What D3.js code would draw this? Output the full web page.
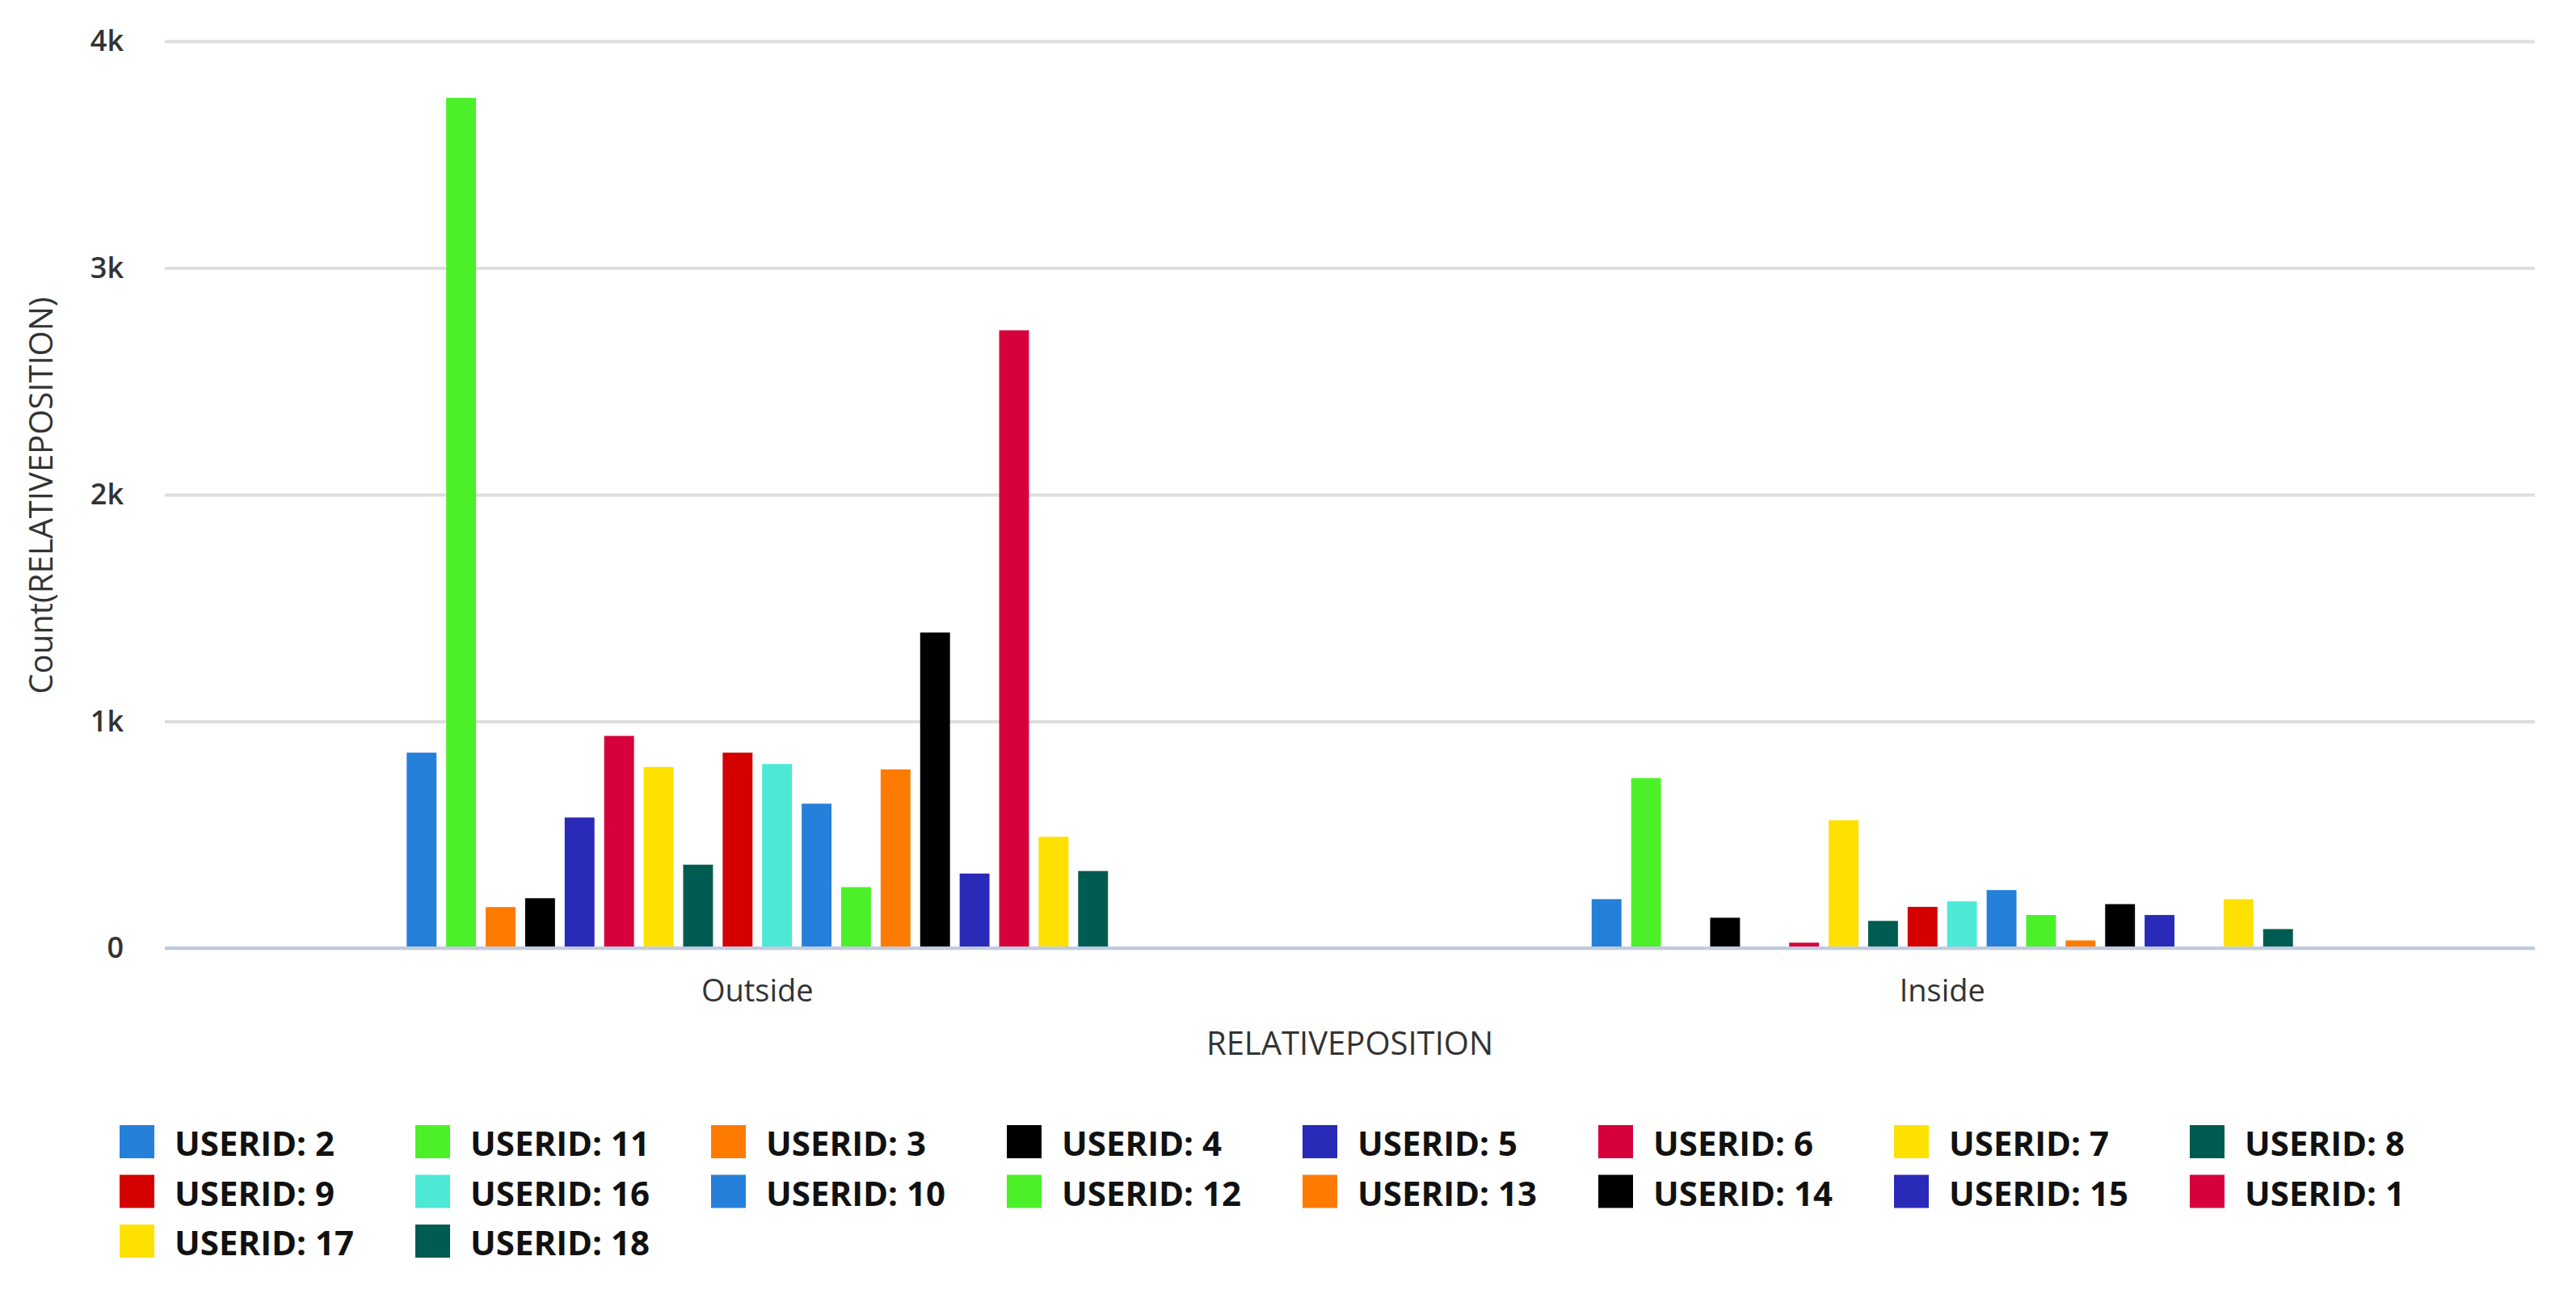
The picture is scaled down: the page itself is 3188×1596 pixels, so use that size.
<!DOCTYPE html>
<html>
<head>
<meta charset="utf-8">
<script src="https://cdn.jsdelivr.net/npm/d3@7"></script>
<style>
  html, body { margin: 0; padding: 0; background: #fff; }
  text { font-family: "Open Sans", "DejaVu Sans", sans-serif; }
</style>
</head>
<body>
<div id="chart"></div>
<script>
const categories = ["Outside", "Inside"];
const userIds = ["2", "11", "3", "4", "5", "6", "7", "8", "9", "16", "10", "12", "13", "14", "15", "1", "17", "18"];
const outsideCounts = [862, 3750, 181, 220, 576, 936, 799, 368, 862, 812, 637, 269, 788, 1392, 329, 2725, 491, 340];
const insideCounts = [216, 750, 0, 134, 0, 24, 564, 120, 182, 206, 256, 146, 34, 194, 146, 0, 216, 84];
const userColors = ["#2580d9", "#4cf029", "#ff7b00", "#000000", "#2a2ab8", "#d6003a", "#ffe100", "#005c50", "#d40000",
    "#4de8d6", "#2580d9", "#4cf029", "#ff7b00", "#000000", "#2a2ab8", "#d6003a", "#ffe100", "#005c50"];
const yTicks = [0, 1000, 2000, 3000, 4000];

const w = 3188;
const h = 1596;
const mLeft = 204, mRight = 3137, mTop = 51, mBottom = 1173;

const rows = [];
categories.forEach((c, ci) => {
    const vals = ci === 0 ? outsideCounts : insideCounts;
    userIds.forEach((u, i) => rows.push({ cat: c, user: u, value: vals[i], color: userColors[i] }));
});

const svg = d3.select('#chart').append('svg')
    .attr('width', w).attr('height', h)
    .style('display', 'block');

svg.append('rect').attr('width', w).attr('height', h).attr('fill', '#fff');

const x0 = d3.scaleBand().domain(categories).range([mLeft, mRight]).padding(0);
const groupW = x0.bandwidth() * 0.6;
const x1 = d3.scaleBand().domain(userIds).range([0, groupW]).paddingInner(0.245).paddingOuter(0.1225);
const y = d3.scaleLinear().domain([0, 4000]).range([mBottom, mTop]);

// grid + y labels
const yAxis = d3.axisLeft(y).tickValues(yTicks)
    .tickFormat(d => d === 0 ? '0' : (d / 1000) + 'k')
    .tickSizeInner(-(mRight - mLeft)).tickSizeOuter(0).tickPadding(51);

const gy = svg.append('g').attr('transform', `translate(${mLeft},0)`).call(yAxis);
gy.select('.domain').remove();
gy.selectAll('.tick line').attr('stroke', '#dedede').attr('stroke-width', 4);
gy.selectAll('.tick text').attr('fill', '#333').attr('font-size', 36).attr('font-weight', 600)
    .style('font-family', '"Open Sans", sans-serif');

// bars
svg.append('g').selectAll('rect').data(rows).enter().append('rect')
    .attr('x', d => x0(d.cat) + x0.bandwidth() * 0.2 + x1(d.user))
    .attr('y', d => y(d.value))
    .attr('width', x1.bandwidth())
    .attr('height', d => mBottom - y(d.value))
    .attr('fill', d => d.color);

// baseline
svg.append('line').attr('x1', mLeft).attr('x2', mRight).attr('y1', y(0)).attr('y2', y(0))
    .attr('stroke', '#c0cbe0').attr('stroke-width', 4);

// x axis labels
const xAxis = d3.axisBottom(x0).tickSize(0).tickPadding(39);
const gx = svg.append('g').attr('transform', `translate(0,${mBottom})`).call(xAxis);
gx.select('.domain').remove();
gx.selectAll('.tick text').attr('fill', '#333').attr('font-size', 38).attr('font-weight', 500)
    .style('font-family', '"Open Sans", sans-serif');

// axis titles
svg.append('text').attr('x', (mLeft + mRight) / 2).attr('y', 1305)
    .attr('text-anchor', 'middle').attr('font-size', 40).attr('fill', '#333')
    .text('RELATIVEPOSITION');

svg.append('text').attr('transform', 'translate(65,613) rotate(-90)')
    .attr('text-anchor', 'middle').attr('font-size', 40).attr('fill', '#333')
    .text('Count(RELATIVEPOSITION)');

// legend
const legend = svg.append('g').selectAll('g').data(userIds).enter().append('g')
    .attr('transform', (d, i) => `translate(${148 + (i % 8) * 366},${1392 + Math.floor(i / 8) * 61.5})`);

legend.append('rect').attr('width', 43).attr('height', 41).attr('fill', (d, i) => userColors[i]);
legend.append('text').attr('x', 68).attr('y', 38)
    .attr('font-size', 42).attr('font-weight', 700).attr('fill', '#111')
    .text(d => 'USERID: ' + d);
</script>
</body>
</html>
